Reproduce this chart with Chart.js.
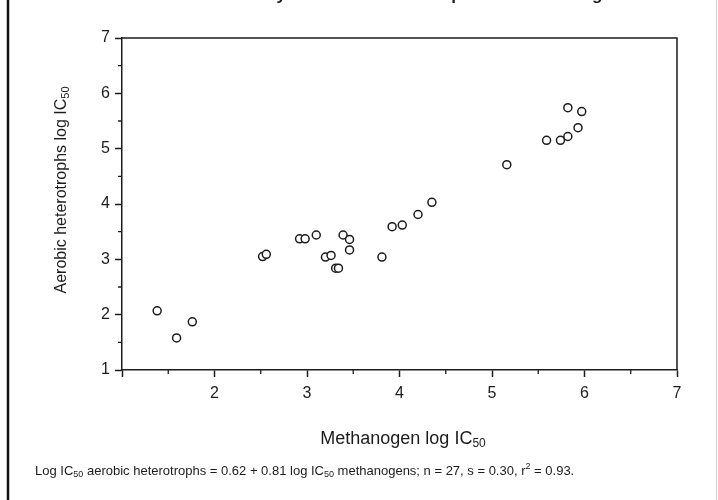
<!DOCTYPE html>
<html>
<head>
<meta charset="utf-8">
<script src="https://cdn.jsdelivr.net/npm/chart.js@4/dist/chart.umd.min.js"></script>
<style>
  html, body { margin: 0; padding: 0; background: #fff; }
  #wrap { width: 718px; height: 500px; position: relative; }
</style>
</head>
<body>
<div id="wrap"><canvas id="c" width="718" height="500"></canvas></div>
<script>
// methanogen log IC50 (x) vs aerobic heterotrophs log IC50 (y), n = 27
const methanogenLog = [1.38, 1.59, 1.76, 2.52, 2.56, 2.92, 2.98, 3.10, 3.20, 3.26, 3.31, 3.34, 3.39, 3.46,
  3.46, 3.81, 3.92, 4.03, 4.20, 4.35, 5.16, 5.59, 5.74, 5.82, 5.93, 5.82, 5.97];
const aerobicLog = [2.07, 1.58, 1.87, 3.05, 3.09, 3.37, 3.37, 3.44, 3.04, 3.07, 2.84, 2.84, 3.44, 3.36,
  3.17, 3.04, 3.59, 3.62, 3.81, 4.03, 4.71, 5.15, 5.15, 5.22, 5.38, 5.74, 5.67];
const xTicks = [1, 2, 3, 4, 5, 6, 7];
const yTicks = [1, 2, 3, 4, 5, 6, 7];

const FONT = '"Liberation Sans", Arial, Helvetica, sans-serif';
const INK = '#1c1c1c';

const points = methanogenLog.map((x, i) => ({ x: x, y: aerobicLog[i] }));

// draws text pieces, some as subscripts; returns the total width
function textWithSub(ctx, parts, x, y, size, align) {
  const subSize = Math.round(size * 0.68);
  let total = 0;
  parts.forEach(([t, sub]) => {
    ctx.font = (sub ? subSize : size) + 'px ' + FONT;
    total += ctx.measureText(t).width;
  });
  let cx = align === 'center' ? x - total / 2 : x;
  ctx.textAlign = 'left';
  ctx.textBaseline = 'alphabetic';
  parts.forEach(([t, sub]) => {
    ctx.font = (sub ? subSize : size) + 'px ' + FONT;
    ctx.fillText(t, cx, sub ? y + size * 0.18 : y);
    cx += ctx.measureText(t).width;
  });
  return cx;
}

const decorations = {
  id: 'decorations',
  afterDraw(chart) {
    const { ctx, chartArea, scales } = chart;
    const xs = scales.x, ys = scales.y;
    ctx.save();

    // box around plot
    ctx.strokeStyle = INK;
    ctx.lineWidth = 1.5;
    ctx.beginPath();
    ctx.moveTo(chartArea.left, chartArea.top);
    ctx.lineTo(chartArea.right, chartArea.top);
    ctx.lineTo(chartArea.right, chartArea.bottom);
    ctx.stroke();

    // minor ticks at the half units
    ctx.lineWidth = 1.3;
    ctx.beginPath();
    for (let v = 1.5; v < 7; v += 1) {
      const px = xs.getPixelForValue(v);
      ctx.moveTo(px, chartArea.bottom);
      ctx.lineTo(px, chartArea.bottom + 4);
      const py = ys.getPixelForValue(v);
      ctx.moveTo(chartArea.left, py);
      ctx.lineTo(chartArea.left - 4, py);
    }
    ctx.stroke();

    // outer figure frame
    ctx.lineWidth = 2.5;
    ctx.strokeStyle = '#111';
    ctx.beginPath();
    ctx.moveTo(8, 0);
    ctx.lineTo(8, 500);
    ctx.stroke();
    ctx.lineWidth = 1;
    ctx.strokeStyle = '#cfcfcf';
    ctx.beginPath();
    ctx.moveTo(716.5, 0);
    ctx.lineTo(716.5, 500);
    ctx.stroke();

    ctx.fillStyle = INK;
    // heading, mostly cut off by the top edge
    ctx.font = 'bold 17px ' + FONT;
    ctx.textAlign = 'center';
    ctx.textBaseline = 'alphabetic';
    ctx.fillText('Relative toxicity to aerobic heterotrophs and methanogens', 394, -0.5);

    // x axis title
    textWithSub(ctx, [['Methanogen log IC', false], ['50', true]], 403, 444, 18, 'center');

    // y axis title (rotated)
    ctx.save();
    ctx.translate(66, 190);
    ctx.rotate(-Math.PI / 2);
    textWithSub(ctx, [['Aerobic heterotrophs log IC', false], ['50', true]], 0, 0, 16, 'center');
    ctx.restore();

    // regression footnote
    const end = textWithSub(ctx, [
      ['Log IC', false], ['50', true],
      [' aerobic heterotrophs = 0.62 + 0.81 log IC', false], ['50', true],
      [' methanogens; n = 27, s = 0.30, r', false]
    ], 35, 475, 13, 'left');
    ctx.font = '9px ' + FONT;
    ctx.fillText('2', end, 469);
    const w3 = ctx.measureText('2').width;
    ctx.font = '13px ' + FONT;
    ctx.fillText(' = 0.93.', end + w3, 475);

    ctx.restore();
  }
};

new Chart(document.getElementById('c'), {
  type: 'scatter',
  data: {
    datasets: [{
      data: points,
      pointStyle: 'circle',
      pointRadius: 4,
      pointHoverRadius: 4,
      pointBorderWidth: 1.5,
      borderColor: INK,
      backgroundColor: '#ffffff'
    }]
  },
  options: {
    responsive: false,
    animation: false,
    events: [],
    layout: { padding: { top: 38, right: 41, bottom: 0, left: 0 } },
    plugins: { legend: { display: false }, tooltip: { enabled: false } },
    scales: {
      x: {
        type: 'linear',
        min: 1,
        max: 7,
        afterFit: (scale) => { scale.height = 130; },
        afterBuildTicks: (scale) => { scale.ticks = xTicks.map(v => ({ value: v })); },
        ticks: {
          callback: (v) => (v > 1 ? String(v) : ''),
          font: { family: FONT, size: 16 },
          color: INK,
          padding: 7,
          maxRotation: 0,
          autoSkip: false
        },
        grid: {
          drawOnChartArea: false,
          drawTicks: true,
          tickLength: 7,
          tickWidth: 1.5,
          tickColor: INK
        },
        border: { display: true, color: INK, width: 1.5 }
      },
      y: {
        type: 'linear',
        min: 1,
        max: 7,
        afterFit: (scale) => { scale.width = 122; },
        afterBuildTicks: (scale) => { scale.ticks = yTicks.map(v => ({ value: v })); },
        ticks: {
          callback: (v) => String(v),
          font: { family: FONT, size: 16 },
          color: INK,
          padding: 5,
          autoSkip: false
        },
        grid: {
          drawOnChartArea: false,
          drawTicks: true,
          tickLength: 7,
          tickWidth: 1.5,
          tickColor: INK
        },
        border: { display: true, color: INK, width: 1.5 }
      }
    }
  },
  plugins: [decorations]
});
</script>
</body>
</html>
